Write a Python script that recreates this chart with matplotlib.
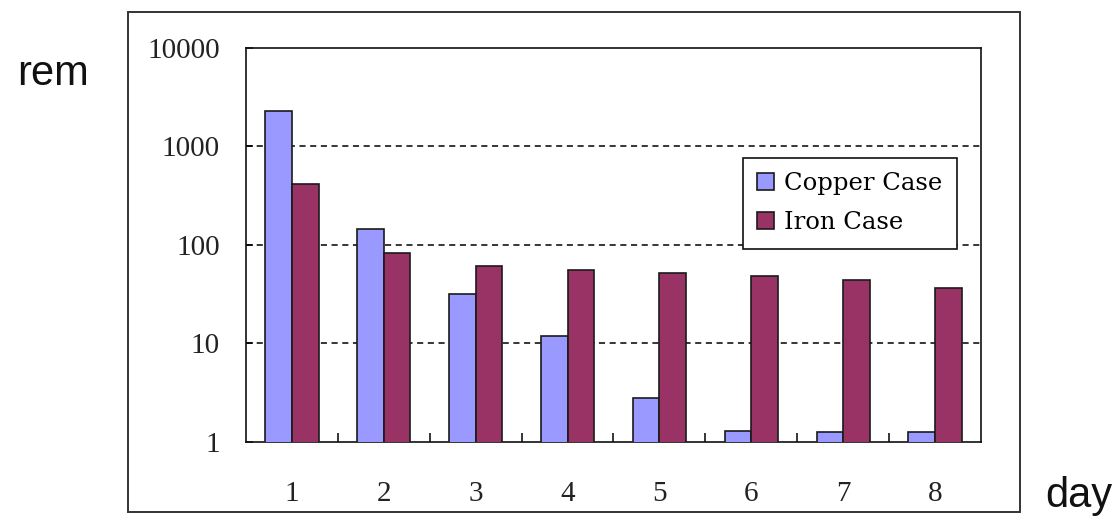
import numpy as np
import matplotlib.pyplot as plt
from matplotlib.patches import Rectangle
from matplotlib.ticker import FixedLocator, NullLocator, FixedFormatter

# dose per day for the two case materials
days = ['1', '2', '3', '4', '5', '6', '7', '8']
copper_case = [2300, 146, 32, 12, 2.8, 1.3, 1.27, 1.27]
iron_case = [420, 83, 61, 56, 52, 48, 44, 37]
y_ticks = [1, 10, 100, 1000, 10000]
y_labels = ['1', '10', '100', '1000', '10000']

fig = plt.figure(figsize=(11.19, 5.24), dpi=100)
ax = fig.add_axes([0.2198, 0.1565, 0.6569, 0.752])
ax.set_yscale('log')

x = np.arange(len(days))
w = 0.29
ax.bar(x - w / 2, copper_case, w, color='#9999FF', edgecolor='#1a1a1a',
       linewidth=1.2, label='Copper Case', zorder=3)
ax.bar(x + w / 2, iron_case, w, color='#993366', edgecolor='#1a1a1a',
       linewidth=1.2, label='Iron Case', zorder=3)

ax.set_ylim(1, 10000)
ax.set_xlim(-0.5, len(days) - 0.5)

# y axis: decades only, plain numbers
ax.yaxis.set_major_locator(FixedLocator(y_ticks))
ax.yaxis.set_major_formatter(FixedFormatter(y_labels))
ax.yaxis.set_minor_locator(NullLocator())
for v in y_ticks[1:-1]:
    ax.axhline(v, color='black', linestyle=(0, (4, 3)), linewidth=1.1, zorder=1)

# x axis: labels at centres, small inward ticks between categories
ax.set_xticks(x)
ax.set_xticklabels(days)
ax.set_xticks(np.arange(0.5, len(days) - 0.5), minor=True)
ax.tick_params(axis='x', which='major', length=0, pad=28)
ax.tick_params(axis='x', which='minor', direction='in', length=6.5, width=1.1)
ax.tick_params(axis='y', which='major', direction='in', length=5, width=1.1, pad=19)
for lab in ax.get_xticklabels() + ax.get_yticklabels():
    lab.set_fontfamily('Liberation Serif')
    lab.set_fontsize(21)
    lab.set_color('#222222')

for s in ax.spines.values():
    s.set_linewidth(1.2)
    s.set_color('#111111')

leg = ax.legend(loc='upper left', bbox_to_anchor=(0.676, 0.721), fancybox=False,
                framealpha=1, edgecolor='#111111', borderaxespad=0,
                prop={'family': 'DejaVu Serif', 'size': 17.5},
                handlelength=0.7, handleheight=0.7, handletextpad=0.4,
                borderpad=0.6, labelspacing=0.65)
leg.get_frame().set_linewidth(1.2)

# outer chart border
fig.patches.append(Rectangle((0.1144, 0.0229), 0.7971, 0.9541, transform=fig.transFigure,
                             fill=False, edgecolor='#333333', linewidth=1.4))

fig.text(0.015, 0.838, 'rem', fontsize=30, family='Liberation Sans', color='#111111')
fig.text(0.934, 0.033, 'day', fontsize=30, family='Liberation Sans', color='#111111')

fig.savefig('out.png', dpi=100)
